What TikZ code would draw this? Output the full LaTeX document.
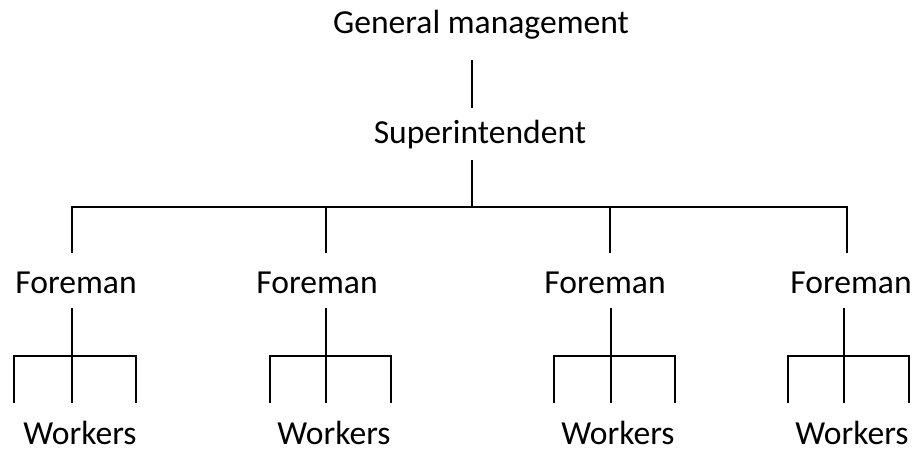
\documentclass[tikz,border=0pt]{standalone}
\usepackage{fontspec}
\setmainfont{Carlito}
\begin{document}
\begin{tikzpicture}[x=1pt,y=-1pt,
  lbl/.style={anchor=base,inner sep=0pt,font=\fontsize{33.6}{40}\selectfont},
  tie/.style={line width=1.6pt}]
\useasboundingbox (0,0) rectangle (916,450);

% top of the hierarchy
\node[lbl] (gm)  at (481,33)  {General management};
\node[lbl] (sup) at (480,143) {Superintendent};
\coordinate (gmOut)  at (472,60);
\coordinate (supIn)  at (472,108);
\coordinate (supOut) at (472,160);
\coordinate (bus)    at (472,207);
\draw[tie] (gmOut) -- (supIn);
\draw[tie] (supOut) -- (bus);

% foremen and their workers
% index / drop x / foreman x / sub-bus x / left x / right x / workers x
\foreach \i/\dx/\fx/\sx/\l/\r/\wx in {
    1/72/76/72/14/136/80,
    2/326/317/326/270/391/334,
    3/610/605/611/554/675/618,
    4/847/851/844/788/909/852} {
  \node[lbl] (f\i) at (\fx,293) {Foreman};
  \node[lbl] (w\i) at (\wx,444) {Workers};
  \coordinate (top\i)  at (\dx,207);
  \coordinate (drop\i) at (\dx,253);
  \coordinate (fOut\i) at (\sx,308);
  \coordinate (sub\i)  at (\sx,356);
  \coordinate (subL\i) at (\l,356);
  \coordinate (subR\i) at (\r,356);
  \coordinate (wL\i)   at (\l,403);
  \coordinate (wM\i)   at (\sx,403);
  \coordinate (wR\i)   at (\r,403);
  \draw[tie] (fOut\i) -- (wM\i);
  \draw[tie] (wL\i) -- (subL\i) -- (subR\i) -- (wR\i);
}

% main bus to the foremen
\draw[tie] (drop1) -- (top1) -- (top4) -- (drop4);
\draw[tie] (top2) -- (drop2);
\draw[tie] (top3) -- (drop3);
\end{tikzpicture}
\end{document}
